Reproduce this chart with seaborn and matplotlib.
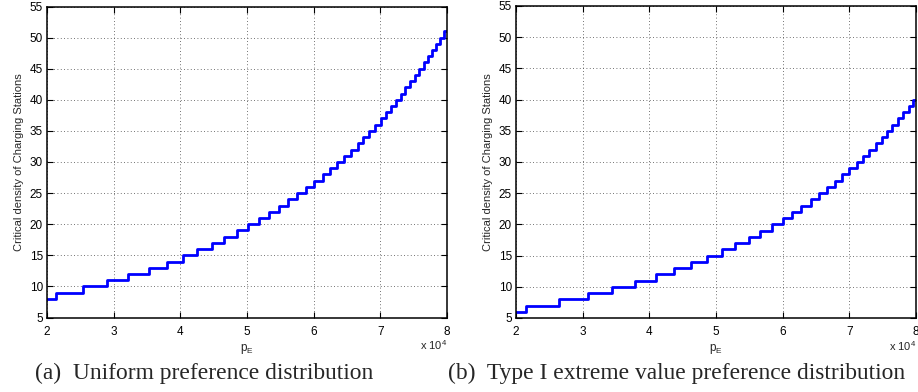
import matplotlib
matplotlib.use("Agg")
import matplotlib.pyplot as plt
import seaborn as sns
import pandas as pd

# ---- data (x in units of 10^4) ----
x_uniform = [2.0, 2.135, 2.545, 2.895, 3.22, 3.53, 3.795, 4.035, 4.255, 4.47, 4.66,
             4.845, 5.01, 5.18, 5.335, 5.485, 5.62, 5.755, 5.885, 6.005, 6.135, 6.245,
             6.355, 6.46, 6.56, 6.66, 6.745, 6.835, 6.92, 7.005, 7.085, 7.16, 7.235,
             7.31, 7.375, 7.445, 7.515, 7.58, 7.65, 7.71, 7.77, 7.835, 7.895, 7.955, 8.0]
y_uniform = [8, 9, 10, 11, 12, 13, 14, 15, 16, 17, 18, 19, 20, 21, 22, 23, 24, 25, 26,
             27, 28, 29, 30, 31, 32, 33, 34, 35, 36, 37, 38, 39, 40, 41, 42, 43, 44, 45,
             46, 47, 48, 49, 50, 51, 51]

x_extreme = [2.0, 2.15, 2.65, 3.075, 3.44, 3.78, 4.095, 4.365, 4.62, 4.865, 5.085, 5.29,
             5.49, 5.665, 5.84, 6.005, 6.14, 6.28, 6.42, 6.55, 6.67, 6.79, 6.89, 7.0,
             7.11, 7.21, 7.30, 7.40, 7.49, 7.565, 7.645, 7.73, 7.81, 7.89, 7.955, 8.0]
y_extreme = [6, 7, 8, 9, 10, 11, 12, 13, 14, 15, 16, 17, 18, 19, 20, 21, 22, 23, 24, 25,
             26, 27, 28, 29, 30, 31, 32, 33, 34, 35, 36, 37, 38, 39, 40, 40]

x_ticks = [2, 3, 4, 5, 6, 7, 8]
x_tick_labels = ["2", "3", "4", "5", "6", "7", "8"]
y_ticks = [5, 10, 15, 20, 25, 30, 35, 40, 45, 50, 55]
y_label = "Critical density of Charging Stations"
x_label = "p$_\\mathregular{E}$"
captions = ["(a)  Uniform preference distribution",
            "(b)  Type I extreme value preference distribution"]

sns.set_theme(style="white")
plt.rcParams["font.family"] = ["Liberation Sans", "DejaVu Sans"]
plt.rcParams["mathtext.fontset"] = "custom"
plt.rcParams["mathtext.rm"] = "Liberation Sans"

fig = plt.figure(figsize=(9.18, 3.92), dpi=100)
W, H = 918.0, 392.0
ax_l = fig.add_axes([47 / W, (H - 317.5) / H, 400 / W, 311 / H])
ax_r = fig.add_axes([516 / W, (H - 318) / H, 400 / W, 312 / H])

datasets = [(ax_l, x_uniform, y_uniform), (ax_r, x_extreme, y_extreme)]
for ax, xs, ys in datasets:
    df = pd.DataFrame({"pE": xs, "density": ys})
    sns.lineplot(data=df, x="pE", y="density", ax=ax, color="#0000ff",
                 linewidth=2.0, drawstyle="steps-post", estimator=None, sort=False)
    ax.set_xlim(2, 8)
    ax.set_ylim(5, 55)
    ax.set_xticks(x_ticks)
    ax.set_xticklabels(x_tick_labels)
    ax.set_yticks(y_ticks)
    ax.grid(True, linestyle=(0, (1, 3)), color="#444444", linewidth=0.6)
    ax.tick_params(direction="in", length=4, width=0.8, labelsize=8.5,
                   top=True, right=True, bottom=True, left=True,
                   colors="black", labelcolor="black")
    ax.tick_params(axis="x", pad=6)
    ax.tick_params(axis="y", pad=3)
    for s in ax.spines.values():
        s.set_visible(True)
        s.set_color("black")
        s.set_linewidth(1.1)
    ax.set_xlabel(x_label, fontsize=8.5, labelpad=3)
    ax.set_ylabel(y_label, fontsize=8, labelpad=4)
    ax.text(1.0, -0.09, "x 10$^\\mathregular{4}$", transform=ax.transAxes,
            ha="right", va="center", fontsize=8)

fig.text(204 / W, 1 - 373 / H, captions[0], ha="center", va="center",
         fontsize=16.9, family=["Liberation Serif", "DejaVu Serif"])
fig.text(677 / W, 1 - 373 / H, captions[1], ha="center", va="center",
         fontsize=16.9, family=["Liberation Serif", "DejaVu Serif"])

fig.savefig("out.png", dpi=100)
